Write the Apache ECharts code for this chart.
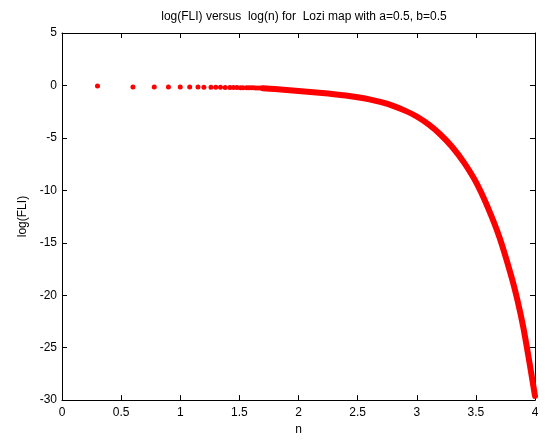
<!DOCTYPE html>
<html>
<head>
<meta charset="utf-8">
<script src="https://cdn.jsdelivr.net/npm/echarts@6/dist/echarts.min.js"></script>
<style>
  html, body { margin: 0; padding: 0; background: #fff; }
  #chart { width: 545px; height: 441px; }
</style>
</head>
<body>
<div id="chart"></div>
<script>
// Puntos separados (n pequeño)
const sparseX = [0.30, 0.60, 0.78, 0.90, 1.00, 1.08, 1.15, 1.20, 1.26, 1.30, 1.34, 1.38, 1.42,
                 1.45, 1.48, 1.51, 1.53, 1.56, 1.58, 1.60, 1.62, 1.64, 1.66, 1.68, 1.70];
const sparseY = [-0.05, -0.14, -0.14, -0.15, -0.15, -0.16, -0.16, -0.17, -0.17, -0.18, -0.18, -0.19, -0.19,
                 -0.2, -0.2, -0.21, -0.21, -0.22, -0.22, -0.23, -0.23, -0.24, -0.24, -0.25, -0.26];

// Parte densa de la curva
const denseX = [1.70, 1.80, 1.90, 2.00, 2.10, 2.20, 2.30, 2.40, 2.50, 2.60, 2.70, 2.80, 2.90,
                3.00, 3.10, 3.20, 3.30, 3.40, 3.50, 3.60, 3.70, 3.80, 3.85, 3.90, 3.95, 4.00];
const denseY = [-0.27, -0.35, -0.44, -0.53, -0.62, -0.72, -0.83, -0.96, -1.12, -1.33, -1.60, -1.95, -2.40,
                -2.96, -3.72, -4.68, -5.87, -7.36, -9.20, -11.6, -14.5, -18.2, -20.4, -23.0, -26.2, -29.6];

const xTicks = [0, 0.5, 1, 1.5, 2, 2.5, 3, 3.5, 4];
const yTicks = [5, 0, -5, -10, -15, -20, -25, -30];

const chart = echarts.init(document.getElementById('chart'));

const font = 'Liberation Sans, Arial, sans-serif';
const axisCommon = {
    axisLine: { show: true, onZero: false, lineStyle: { color: '#000', width: 1 } },
    axisTick: { show: true, inside: true, length: 5, lineStyle: { color: '#000' } },
    splitLine: { show: false }
};

let option = {
    animation: false,
    backgroundColor: '#fff',
    title: {
        text: 'log(FLI) versus  log(n) for  Lozi map with a=0.5, b=0.5',
        left: 299,
        textAlign: 'center',
        top: 6,
        textStyle: { fontFamily: font, fontSize: 12, fontWeight: 'normal', color: '#000' }
    },
    grid: { left: 62, right: 10, top: 33, bottom: 36 },
    xAxis: [
        Object.assign({
            type: 'value', min: 0, max: 4, interval: 0.5, position: 'bottom',
            name: 'n', nameLocation: 'middle', nameGap: 22,
            nameTextStyle: { fontFamily: font, fontSize: 12, color: '#000' },
            axisLabel: {
                fontFamily: font, fontSize: 12, color: '#000', margin: 7,
                formatter: v => xTicks.indexOf(v) >= 0 ? String(v) : ''
            }
        }, axisCommon),
        Object.assign({
            type: 'value', min: 0, max: 4, interval: 0.5, position: 'top',
            axisLabel: { show: false }
        }, axisCommon)
    ],
    yAxis: [
        Object.assign({
            type: 'value', min: -30, max: 5, interval: 5, position: 'left',
            name: 'log(FLI)', nameLocation: 'middle', nameGap: 32,
            nameTextStyle: { fontFamily: font, fontSize: 12, color: '#000' },
            axisLabel: {
                fontFamily: font, fontSize: 12, color: '#000', margin: 5,
                formatter: v => yTicks.indexOf(v) >= 0 ? String(v) : ''
            }
        }, axisCommon),
        Object.assign({
            type: 'value', min: -30, max: 5, interval: 5, position: 'right',
            axisLabel: { show: false }
        }, axisCommon)
    ],
    series: [
        {
            type: 'line',
            data: denseX.map((x, i) => [x, denseY[i]]),
            smooth: 0.3,
            showSymbol: false,
            lineStyle: { color: '#ff0000', width: 6, cap: 'round', join: 'round' },
            z: 2
        },
        {
            type: 'scatter',
            data: sparseX.map((x, i) => [x, sparseY[i]]),
            symbol: 'circle',
            symbolSize: 5,
            itemStyle: { color: '#ff0000', opacity: 1 },
            z: 3
        }
    ]
};

chart.setOption(option);
</script>
</body>
</html>
